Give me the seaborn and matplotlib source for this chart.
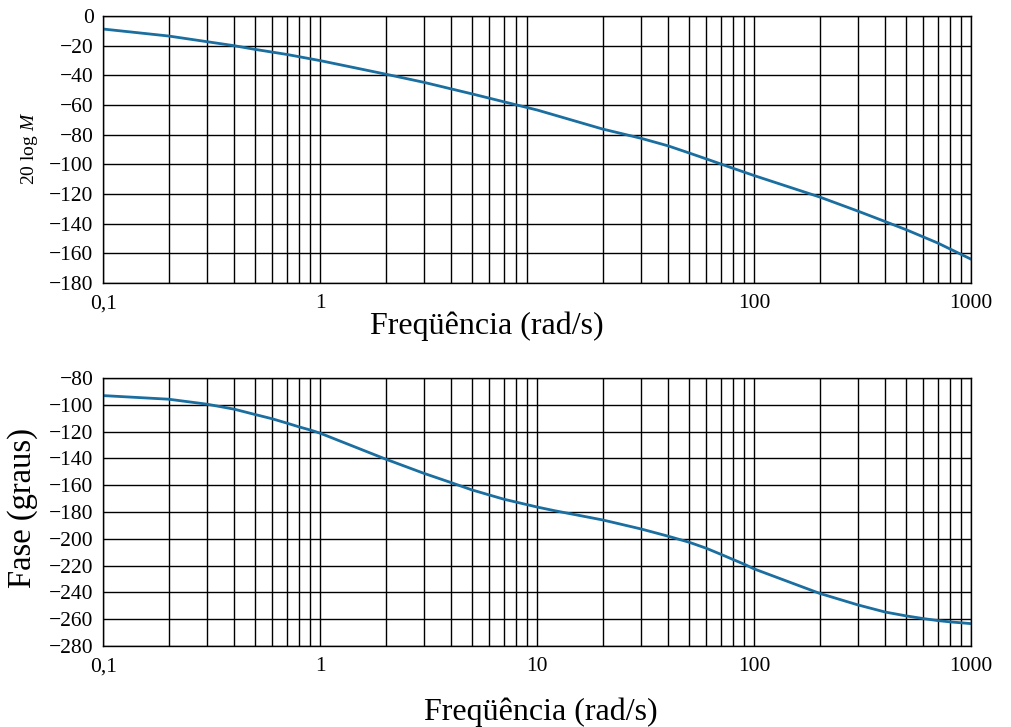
import numpy as np
import pandas as pd
import matplotlib
matplotlib.use("Agg")
import matplotlib.pyplot as plt
import seaborn as sns

# values
freq_mag = [0.1, 0.2, 0.4, 0.5, 0.7, 1, 2, 3, 4, 5, 7, 10, 20, 30, 40,
            50, 60, 80, 100, 200, 300, 400, 500, 700, 1000]
mag_db = [-8.8, -13.5, -20, -22.5, -25.9, -30.1, -39.2, -44.7, -49.1, -52.5, -57.8, -63.4, -76.2, -82.4, -87.5,
          -92.3, -96.3, -102.7, -107.6, -122, -131.5, -138.5, -144, -153, -164]

freq_ph = [0.1, 0.2, 0.3, 0.4, 0.5, 0.6, 0.7, 0.8, 0.9, 1, 2, 3, 4, 5, 7, 10, 12, 20, 30, 40,
           50, 60, 70, 80, 90, 100, 200, 300, 400, 500, 600, 700, 800, 1000]
phase_deg = [-93.1, -95.8, -99.5, -103.2, -107.2, -110.4, -113.6, -116.5, -118.8, -121.2, -140.5, -151.1, -158,
             -163.5, -170.4, -176.3, -179, -185.9, -192.6, -198,
             -202.5, -207, -211.5, -215.5, -219, -222.5, -240.7, -249.3, -254.6, -257.5, -259.5, -261, -262, -263.3]

top_ticks = [0.1, 1, 100, 1000]
top_labels = ["0,1", "1", "100", "1000"]
bot_ticks = [0.1, 1, 10, 100, 1000]
bot_labels = ["0,1", "1", "10", "100", "1000"]

sns.set_style("white", {"text.color": "black", "xtick.color": "black", "ytick.color": "black"})
plt.rcParams['font.family'] = ['Liberation Serif', 'DejaVu Serif']
plt.rcParams['mathtext.fontset'] = 'custom'
plt.rcParams['mathtext.it'] = 'Liberation Serif:italic'
plt.rcParams['mathtext.rm'] = 'Liberation Serif'

df_mag = pd.DataFrame({"w": freq_mag, "m": mag_db})
df_ph = pd.DataFrame({"w": freq_ph, "p": phase_deg})

fig = plt.figure(figsize=(10.11, 7.27), dpi=100)
ax1 = fig.add_axes([0.1022, 0.6107, 0.8585, 0.3673])
ax2 = fig.add_axes([0.1022, 0.1114, 0.8585, 0.3686])

line_col = '#1a6ea0'
sns.lineplot(data=df_mag, x="w", y="m", ax=ax1, color=line_col, lw=2.0)
sns.lineplot(data=df_ph, x="w", y="p", ax=ax2, color=line_col, lw=2.0)

for ax in (ax1, ax2):
    ax.set_xscale('log')
    ax.set_xlim(0.1, 1000)
    ax.grid(True, which='both', color='black', lw=1.0)
    ax.tick_params(which='both', length=0, labelsize=15.5, labelcolor='black')
    ax.tick_params(axis='y', pad=7)
    ax.tick_params(axis='x', pad=8)
    ax.set_xlabel("")
    ax.set_ylabel("")
    for s in ax.spines.values():
        s.set_color('black')
        s.set_linewidth(1.0)

ax1.set_ylim(-180, 0)
ax1.set_yticks(np.arange(-180, 1, 20))
ax1.set_xticks(top_ticks)
ax1.set_xticklabels(top_labels)

ax2.set_ylim(-280, -80)
ax2.set_yticks(np.arange(-280, -79, 20))
ax2.set_xticks(bot_ticks)
ax2.set_xticklabels(bot_labels)

fig.text(487 / 1011, 1 - 326 / 727, "Freqüência (rad/s)", ha='center', va='center', fontsize=23, color='black')
fig.text(541 / 1011, 1 - 712 / 727, "Freqüência (rad/s)", ha='center', va='center', fontsize=23, color='black')
fig.text(30 / 1011, 1 - 148 / 727, r"20 log $M$", rotation=90, ha='center', va='center', fontsize=14, color='black')
fig.text(23 / 1011, 1 - 508 / 727, "Fase (graus)", rotation=90, ha='center', va='center', fontsize=23.5, color='black')

fig.savefig("out.png", dpi=100)
